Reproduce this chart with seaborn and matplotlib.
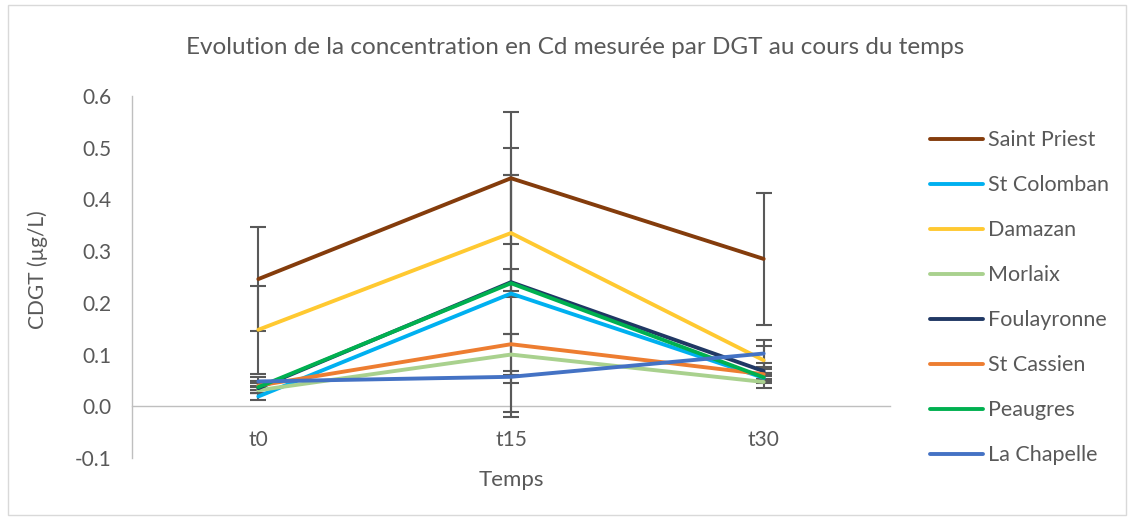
"""
Evolution de la concentration en Cd mesuree par DGT (line chart with error bars).
"""

import numpy as np
import pandas as pd
import matplotlib
matplotlib.use("Agg")
import matplotlib.pyplot as plt
from matplotlib.patches import Rectangle
import seaborn as sns

# ---- data ----
times = ["t0", "t15", "t30"]
sites = ["Saint Priest", "St Colomban", "Damazan", "Morlaix",
         "Foulayronne", "St Cassien", "Peaugres", "La Chapelle"]

saint_priest = [0.246, 0.441, 0.285]
st_colomban = [0.019, 0.218, 0.055]
damazan = [0.148, 0.335, 0.089]
morlaix = [0.031, 0.100, 0.047]
foulayronne = [0.035, 0.240, 0.068]
st_cassien = [0.040, 0.120, 0.062]
peaugres = [0.037, 0.238, 0.056]
la_chapelle = [0.048, 0.057, 0.102]

err_saint_priest = [0.100, 0.128, 0.127]
err_st_colomban = [0.006, 0.229, 0.010]
err_damazan = [0.085, 0.112, 0.027]
err_morlaix = [0.006, 0.040, 0.012]
err_foulayronne = [0.010, 0.260, 0.015]
err_st_cassien = [0.009, 0.020, 0.011]
err_peaugres = [0.011, 0.027, 0.008]
err_la_chapelle = [0.008, 0.012, 0.026]

colors = ["#843C0C", "#00B0F0", "#FFC931", "#A9D18E",
          "#203864", "#ED7D31", "#00B050", "#4472C4"]

values = [saint_priest, st_colomban, damazan, morlaix,
          foulayronne, st_cassien, peaugres, la_chapelle]
errors = [err_saint_priest, err_st_colomban, err_damazan, err_morlaix,
          err_foulayronne, err_st_cassien, err_peaugres, err_la_chapelle]

rows = []
for site, vals, errs in zip(sites, values, errors):
    for t, v, e in zip(times, vals, errs):
        rows.append({"Temps": t, "site": site, "CDGT": v, "err": e})
df = pd.DataFrame(rows)

# ---- plot ----
sns.set_style("white")
plt.rcParams["font.family"] = ["Lato", "DejaVu Sans"]
grey = "#595959"

fig = plt.figure(figsize=(11.34, 5.19), dpi=100)
ax = fig.add_axes([132 / 1134, 1 - 458 / 519, 758 / 1134, 362 / 519])

xpos = {t: i for i, t in enumerate(times)}
df["x"] = df["Temps"].map(xpos)

# error bars first, lines over them
for site in sites:
    sub = df[df["site"] == site]
    ax.errorbar(sub["x"], sub["CDGT"], yerr=sub["err"], fmt="none",
                ecolor=grey, elinewidth=1.5, capsize=6, capthick=1.5, zorder=3)

sns.lineplot(data=df, x="x", y="CDGT", hue="site", hue_order=sites,
             palette=colors, linewidth=2.8, ax=ax, zorder=4)

ax.set_xlim(-0.5, 2.5)
ax.set_ylim(-0.1, 0.6)
ax.set_yticks(np.arange(-0.1, 0.61, 0.1))
ax.set_yticklabels([f"{v:.1f}" for v in np.arange(-0.1, 0.61, 0.1)])
ax.set_xticks(range(len(times)))
ax.set_xticklabels(times)

for s in ["top", "right"]:
    ax.spines[s].set_visible(False)
ax.spines["left"].set_color("#bfbfbf")
ax.spines["bottom"].set_color("#bfbfbf")
ax.spines["bottom"].set_position(("data", 0))
ax.spines["left"].set_linewidth(1)
ax.spines["bottom"].set_linewidth(1)
ax.tick_params(axis="both", length=0, labelsize=15, colors=grey)
ax.tick_params(axis="x", pad=17)
ax.tick_params(axis="y", pad=15)
ax.set_xlabel("")
ax.set_ylabel("")

fig.text(511 / 1134, 1 - 480 / 519, "Temps", ha="center", va="center",
         fontsize=16, color=grey)
fig.text(38 / 1134, 1 - 270 / 519, "CDGT (µg/L)", ha="center", va="center",
         rotation=90, fontsize=15, color=grey)
fig.text(575 / 1134, 1 - 47 / 519,
         "Evolution de la concentration en Cd mesurée par DGT au cours du temps",
         ha="center", va="center", fontsize=17.5, color=grey)

handles, labels = ax.get_legend_handles_labels()
ax.legend(handles, labels, loc="upper left", frameon=False,
          bbox_to_anchor=(911 / 1134, 1 - 111 / 519),
          bbox_transform=fig.transFigure, fontsize=15.5, labelcolor=grey,
          handlelength=2.45, handletextpad=0.25, labelspacing=1.16)

fig.patches.append(Rectangle((8 / 1134, 4 / 519), 1118 / 1134, 510 / 519,
                             transform=fig.transFigure, fill=False,
                             edgecolor="#d9d9d9", linewidth=1))

plt.savefig("out.png", dpi=100)
plt.close()
